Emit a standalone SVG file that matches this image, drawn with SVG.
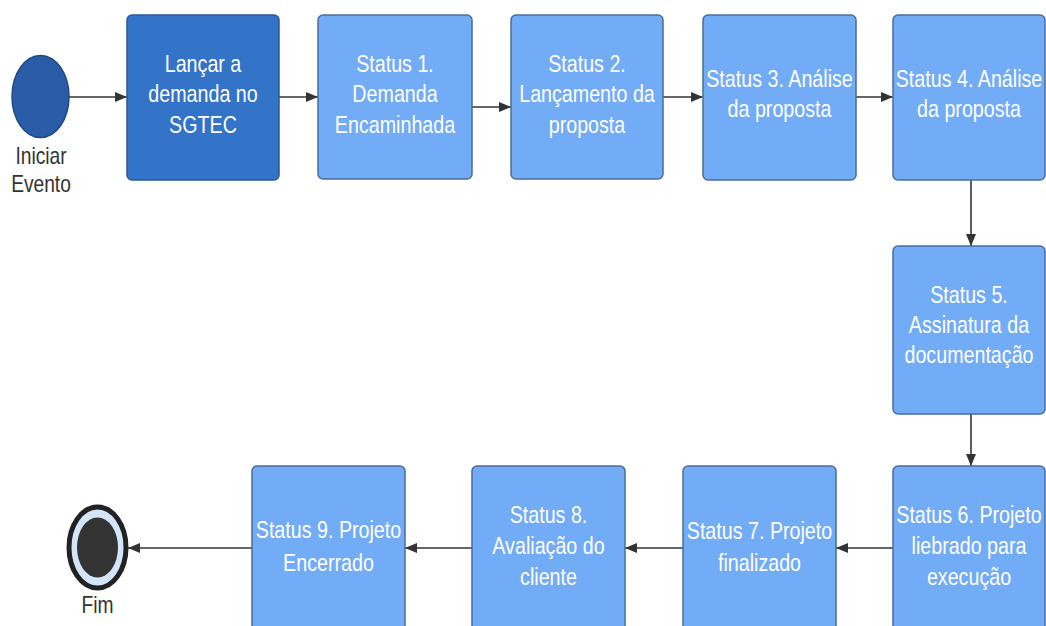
<svg xmlns="http://www.w3.org/2000/svg" width="1046" height="626" viewBox="0 0 1046 626">
<style>
.box{fill:#72abf6;stroke:#4b6d9c;stroke-width:1.5}
.dark{fill:#3373c8;stroke:#2a5a98;stroke-width:1.5}
.t{font-family:"Liberation Sans",Arial,sans-serif;font-size:24px;fill:#ffffff;text-anchor:middle}
.lbl{font-family:"Liberation Sans",Arial,sans-serif;font-size:24px;fill:#333333;text-anchor:middle}
.c{stroke:#333333;stroke-width:1.6;fill:none;marker-end:url(#ah)}
</style>
<defs>
<marker id="ah" viewBox="0 0 12 10" refX="12" refY="5" markerWidth="12" markerHeight="10" markerUnits="userSpaceOnUse" orient="auto">
<path d="M0,0 L12,5 L0,10 z" fill="#333333"/>
</marker>
</defs>
<rect width="1046" height="626" fill="#ffffff"/>
<g id="connectors">
<path class="c" d="M69,97 H127"/>
<path class="c" d="M279,97 H318"/>
<path class="c" d="M472,107 H511"/>
<path class="c" d="M663,97 H703"/>
<path class="c" d="M856,97 H893"/>
<path class="c" d="M971,180 V246"/>
<path class="c" d="M971,414 V466"/>
<path class="c" d="M893,548 H836"/>
<path class="c" d="M683,548 H625"/>
<path class="c" d="M472,548 H405"/>
<path class="c" d="M252,548 H128"/>
</g>
<g id="start">
<ellipse cx="40.5" cy="96.5" rx="28.5" ry="41" fill="#2b5ca8" stroke="#1f4a8a" stroke-width="1.5"/>
<text class="lbl" transform="translate(41 0) scale(0.8 1)"><tspan x="0" y="164">Iniciar</tspan><tspan x="0" y="192">Evento</tspan></text>
</g>
<g id="n0">
<rect class="dark" x="127" y="15" width="152" height="165" rx="5"/>
<text class="t" transform="translate(203 0) scale(0.82 1)"><tspan x="0" y="72">Lançar a</tspan><tspan x="0" y="102.5">demanda no</tspan><tspan x="0" y="133">SGTEC</tspan></text>
</g>
<g id="n1">
<rect class="box" x="318" y="15" width="154" height="164" rx="5"/>
<text class="t" transform="translate(395 0) scale(0.82 1)"><tspan x="0" y="72">Status 1.</tspan><tspan x="0" y="102.5">Demanda</tspan><tspan x="0" y="133">Encaminhada</tspan></text>
</g>
<g id="n2">
<rect class="box" x="511" y="15" width="152" height="164" rx="5"/>
<text class="t" transform="translate(587 0) scale(0.82 1)"><tspan x="0" y="72">Status 2.</tspan><tspan x="0" y="102.5">Lançamento da</tspan><tspan x="0" y="133">proposta</tspan></text>
</g>
<g id="n3">
<rect class="box" x="703" y="15" width="153" height="165" rx="5"/>
<text class="t" transform="translate(779.5 0) scale(0.82 1)"><tspan x="0" y="87">Status 3. Análise</tspan><tspan x="0" y="117">da proposta</tspan></text>
</g>
<g id="n4">
<rect class="box" x="893" y="15" width="152" height="165" rx="5"/>
<text class="t" transform="translate(969 0) scale(0.82 1)"><tspan x="0" y="87">Status 4. Análise</tspan><tspan x="0" y="117">da proposta</tspan></text>
</g>
<g id="n5">
<rect class="box" x="893" y="246" width="152" height="168" rx="5"/>
<text class="t" transform="translate(969 0) scale(0.82 1)"><tspan x="0" y="303">Status 5.</tspan><tspan x="0" y="333">Assinatura da</tspan><tspan x="0" y="363">documentação</tspan></text>
</g>
<g id="n6">
<rect class="box" x="893" y="466" width="152" height="170" rx="5"/>
<text class="t" transform="translate(969 0) scale(0.82 1)"><tspan x="0" y="523">Status 6. Projeto</tspan><tspan x="0" y="554">liebrado para</tspan><tspan x="0" y="585">execução</tspan></text>
</g>
<g id="n7">
<rect class="box" x="683" y="466" width="153" height="170" rx="5"/>
<text class="t" transform="translate(759.5 0) scale(0.82 1)"><tspan x="0" y="539">Status 7. Projeto</tspan><tspan x="0" y="571">finalizado</tspan></text>
</g>
<g id="n8">
<rect class="box" x="472" y="466" width="153" height="170" rx="5"/>
<text class="t" transform="translate(548.5 0) scale(0.82 1)"><tspan x="0" y="523">Status 8.</tspan><tspan x="0" y="554">Avaliação do</tspan><tspan x="0" y="585">cliente</tspan></text>
</g>
<g id="n9">
<rect class="box" x="252" y="466" width="153" height="170" rx="5"/>
<text class="t" transform="translate(328.5 0) scale(0.82 1)"><tspan x="0" y="538">Status 9. Projeto</tspan><tspan x="0" y="571">Encerrado</tspan></text>
</g>
<g id="end">
<ellipse cx="97.5" cy="547.5" rx="28.5" ry="40.5" fill="#d3e5fa" stroke="#222222" stroke-width="5"/>
<ellipse cx="97.5" cy="547.5" rx="20.5" ry="30" fill="#333333"/>
<text class="lbl" transform="translate(97.5 0) scale(0.8 1)"><tspan x="0" y="613">Fim</tspan></text>
</g>
</svg>
